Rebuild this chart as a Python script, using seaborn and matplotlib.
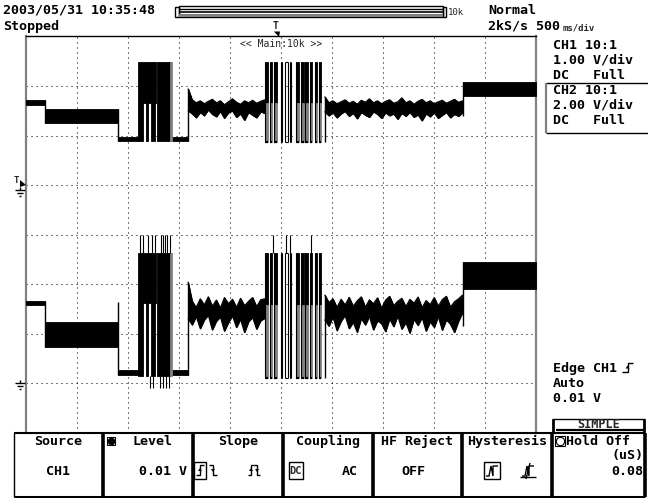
import matplotlib
matplotlib.use("Agg")
import matplotlib.pyplot as plt
import numpy as np
import pandas as pd
import seaborn as sns
from matplotlib.patches import Rectangle, Polygon

# time in s (500 ms/div, 10 div); CH1 volts (1 V/div), CH2 volts (2 V/div)
SEC_PER_DIV = 0.5
VDIV = {"CH1": 1.0, "CH2": 2.0}
OFFSET = {"CH1": 1.0, "CH2": -3.0}   # ground marker position, in div

# steady levels (start, end, low, high)
seg_t0 = [0.00, 0.19, 0.90, 1.43, 4.28]
seg_t1 = [0.19, 0.90, 1.10, 1.59, 5.00]
ch1_seg_lo = [1.62, 1.25, 0.89, 0.89, 1.79]
ch1_seg_hi = [1.72, 1.53, 0.97, 0.97, 2.08]
ch2_seg_lo = [3.15, 1.45, 0.32, 0.32, 3.79]
ch2_seg_hi = [3.31, 2.46, 0.52, 0.52, 4.88]

# transitions between pieces
edge_t = [0.19, 0.90, 1.59, 2.93, 4.28]
ch1_edge_lo = [1.25, 0.89, 0.89, 0.87, 1.40]
ch1_edge_hi = [1.72, 1.53, 1.94, 1.78, 2.08]
ch2_edge_lo = [1.45, 0.32, 0.32, 0.20, 2.30]
ch2_edge_hi = [3.31, 3.27, 4.07, 3.55, 4.88]

# noisy stretches, envelope
noise_a = (1.59, 2.34)
noise_b = (2.93, 4.28)
ch1_na_hi = [1.94, 1.72, 1.66, 1.70, 1.64, 1.69, 1.73, 1.66, 1.70, 1.62,
             1.68, 1.74, 1.67, 1.63, 1.70, 1.66, 1.71, 1.65, 1.69, 1.72]
ch1_na_lo = [1.50, 1.44, 1.36, 1.47, 1.40, 1.52, 1.43, 1.38, 1.49, 1.35,
             1.46, 1.50, 1.37, 1.44, 1.31, 1.47, 1.41, 1.36, 1.48, 1.45]
ch1_nb_hi = [1.78, 1.66, 1.70, 1.64, 1.68, 1.72, 1.65, 1.69, 1.63, 1.71,
             1.67, 1.74, 1.66, 1.70, 1.64, 1.69, 1.72, 1.65, 1.68, 1.76,
             1.66, 1.70, 1.63, 1.69, 1.73, 1.66, 1.70, 1.64, 1.68, 1.71,
             1.65, 1.69, 1.73, 1.67, 1.70]
ch1_nb_lo = [1.48, 1.40, 1.46, 1.36, 1.44, 1.49, 1.39, 1.45, 1.34, 1.47,
             1.41, 1.37, 1.48, 1.43, 1.35, 1.46, 1.40, 1.44, 1.33, 1.45,
             1.39, 1.47, 1.37, 1.42, 1.30, 1.44, 1.38, 1.46, 1.35, 1.41,
             1.47, 1.36, 1.43, 1.39, 1.46]
ch2_na_hi = [4.07, 3.30, 3.05, 3.40, 3.15, 3.48, 3.10, 3.35, 3.02, 3.45,
             3.20, 3.38, 3.05, 3.42, 3.12, 3.30, 3.45, 3.08, 3.36, 3.40]
ch2_na_lo = [2.60, 2.35, 2.70, 2.20, 2.55, 2.75, 2.15, 2.50, 2.68, 2.10,
             2.45, 2.72, 2.25, 2.58, 2.05, 2.48, 2.66, 2.18, 2.52, 2.62]
ch2_nb_hi = [3.55, 3.25, 3.40, 3.05, 3.38, 3.15, 3.46, 3.10, 3.32, 3.48,
             3.06, 3.36, 3.20, 3.44, 3.02, 3.35, 3.50, 3.12, 3.30, 3.42,
             3.08, 3.38, 3.22, 3.47, 3.04, 3.33, 3.16, 3.45, 3.10, 3.37,
             3.50, 3.06, 3.28, 3.40, 3.55]
ch2_nb_lo = [2.55, 2.30, 2.68, 2.12, 2.50, 2.74, 2.20, 2.46, 2.05, 2.62,
             2.35, 2.70, 2.15, 2.52, 2.40, 2.08, 2.60, 2.28, 2.72, 2.18,
             2.45, 2.02, 2.58, 2.33, 2.66, 2.10, 2.48, 2.25, 2.70, 2.14,
             2.56, 2.38, 2.05, 2.50, 2.85]

# first burst: dense block
b1_upper = [(1.098, 1.279), (1.289, 1.412)]
b1_lower = [(1.098, 1.147), (1.181, 1.196), (1.225, 1.265), (1.289, 1.412)]
b1_grey = (1.412, 1.431)
ch1_b1 = {"lo": 0.89, "mid": 1.65, "hi": 2.48}
ch2_b1 = {"lo": 0.28, "mid": 3.23, "hi": 5.27}
ch2_b1_spike_up = [1.118, 1.147, 1.196, 1.235, 1.265, 1.324, 1.343, 1.363, 1.382, 1.412]
ch2_b1_spike_dn = [1.216, 1.245, 1.314, 1.343, 1.373, 1.402]

# second burst: separate pulses
b2_t0 = [2.346, 2.389, 2.431, 2.497, 2.542, 2.585, 2.650, 2.699, 2.738, 2.787, 2.830, 2.873]
b2_t1 = [2.373, 2.415, 2.458, 2.510, 2.569, 2.601, 2.674, 2.722, 2.765, 2.807, 2.853, 2.895]
b2_open = [False, False, False, True, True, True, False, False, False, False, False, False]
ch1_b2 = {"lo": 0.87, "mid": 1.65, "hi": 2.48}
ch2_b2 = {"lo": 0.20, "mid": 3.15, "hi": 5.27}
ch2_b2_spike_up = [2.42, 2.55, 2.59, 2.79]

GREY = "#808080"


def d(v, ch):
    return np.asarray(v, dtype=float) / VDIV[ch] + OFFSET[ch]


def band(ax, t0, t1, lo, hi, ch, color="black"):
    ax.fill_between([t0, t1], d([lo, lo], ch), d([hi, hi], ch),
                    color=color, lw=0.6, zorder=3)


def draw_channel(ax, ch, seg_lo, seg_hi, e_lo, e_hi, na, nb, b1, b2,
                 spikes_up=(), spikes_dn=(), b2_spikes=()):
    for t0, t1, lo, hi in zip(seg_t0, seg_t1, seg_lo, seg_hi):
        band(ax, t0, t1, lo, hi, ch)

    for (t0, t1), (hi, lo) in zip([noise_a, noise_b], [na, nb]):
        t = np.linspace(t0, t1, len(hi))
        df = pd.DataFrame({"t": t, "hi": d(hi, ch), "lo": d(lo, ch)})
        ax.fill_between(df["t"], df["lo"], df["hi"], color="black", lw=0.6, zorder=3)
        sns.lineplot(data=df, x="t", y="hi", color="black", lw=0.9,
                     estimator=None, sort=False, ax=ax, zorder=3)
        sns.lineplot(data=df, x="t", y="lo", color="black", lw=0.9,
                     estimator=None, sort=False, ax=ax, zorder=3)

    ax.vlines(edge_t, d(e_lo, ch), d(e_hi, ch), color="black", lw=1.0, zorder=3)

    # burst 1
    for a, b in b1_upper:
        band(ax, a, b, b1["mid"], b1["hi"], ch)
    for a, b in b1_lower:
        band(ax, a, b, b1["lo"], b1["mid"], ch)
    band(ax, b1_grey[0], b1_grey[1], b1["lo"], b1["hi"], ch, GREY)
    if spikes_up:
        ax.vlines(spikes_up, d(b1["hi"], ch), d(6.0, ch), color="black", lw=0.8, zorder=3)
    if spikes_dn:
        ax.vlines(spikes_dn, d(b1["lo"], ch), d(-0.2, ch), color="black", lw=0.8, zorder=3)

    # burst 2
    for a, b, op in zip(b2_t0, b2_t1, b2_open):
        if op:
            ax.vlines([a, b], d(b2["lo"], ch), d(b2["hi"], ch), color="black", lw=0.8, zorder=3)
            ax.hlines([d(b2["hi"], ch), d(b2["lo"], ch)], a, b, color="black", lw=0.8, zorder=3)
        else:
            band(ax, a, b, b2["mid"], b2["hi"], ch)
            band(ax, a, b, b2["lo"], b2["mid"], ch, GREY)
            ax.vlines([a], d(b2["lo"], ch), d(b2["hi"], ch), color="black", lw=0.8, zorder=3)
            ax.hlines([d(b2["lo"], ch)], a, b, color="black", lw=1.6, zorder=3)
    if b2_spikes:
        ax.vlines(b2_spikes, d(b2["hi"], ch), d(6.0, ch), color="black", lw=0.8, zorder=3)


sns.set_theme(style="white")
plt.rcParams["font.family"] = ["DejaVu Sans Mono"]
plt.rcParams["lines.scale_dashes"] = False

fig = plt.figure(figsize=(6.48, 4.98), dpi=100)
ax = fig.add_axes([26 / 648, (498 - 432.5) / 498, 510 / 648, 396 / 498])
ax.set_xlim(0, 10 * SEC_PER_DIV)
ax.set_ylim(-4, 4)
ax.set_xticks([])
ax.set_yticks([])

dots = (0, (0.75, 2.85))
for k in range(1, 10):
    ax.axvline(k * SEC_PER_DIV, color="black", lw=0.75, ls=dots, zorder=1)
for k in range(-3, 4):
    ax.axhline(k, color="black", lw=0.75, ls=dots, zorder=1)

for s in ["left", "right"]:
    ax.spines[s].set_color(GREY)
    ax.spines[s].set_linewidth(1.6)
ax.spines["top"].set_color("black")
ax.spines["top"].set_linewidth(1.0)
ax.spines["bottom"].set_visible(False)

draw_channel(ax, "CH1", ch1_seg_lo, ch1_seg_hi, ch1_edge_lo, ch1_edge_hi,
             (ch1_na_hi, ch1_na_lo), (ch1_nb_hi, ch1_nb_lo), ch1_b1, ch1_b2)
draw_channel(ax, "CH2", ch2_seg_lo, ch2_seg_hi, ch2_edge_lo, ch2_edge_hi,
             (ch2_na_hi, ch2_na_lo), (ch2_nb_hi, ch2_nb_lo), ch2_b1, ch2_b2,
             ch2_b1_spike_up, ch2_b1_spike_dn, ch2_b2_spike_up)
ax.set_xlabel("")
ax.set_ylabel("")

# ---- screen furniture in pixel coordinates ----
ov = fig.add_axes([0, 0, 1, 1])
ov.set_xlim(0, 648)
ov.set_ylim(498, 0)
ov.axis("off")
ov.patch.set_alpha(0)

FS = 9.6
TXT = dict(fontsize=FS, fontweight="bold", va="center", color="black")


def line(xs, ys, lw=1.0, color="black"):
    ov.plot(xs, ys, color=color, lw=lw, solid_capstyle="butt", solid_joinstyle="miter")


def step_icon(x, y, w, h, rising=True):
    if rising:
        line([x, x + w / 2, x + w / 2, x + w], [y + h, y + h, y, y], lw=1.0)
        ov.add_patch(Polygon([[x + w / 2 - 2, y + h / 2 + 1], [x + w / 2 + 2, y + h / 2 + 1],
                              [x + w / 2, y + h / 2 - 2]], closed=True, color="black", lw=0))
    else:
        line([x, x + w / 2, x + w / 2, x + w], [y, y, y + h, y + h], lw=1.0)
        ov.add_patch(Polygon([[x + w / 2 - 2, y + h / 2 - 1], [x + w / 2 + 2, y + h / 2 - 1],
                              [x + w / 2, y + h / 2 + 2]], closed=True, color="black", lw=0))


def ground(x, y):
    line([x, x], [y - 3, y], lw=1.0)
    line([x - 5, x + 5], [y, y], lw=1.0)
    line([x - 3, x + 3], [y + 3, y + 3], lw=1.0)
    line([x - 1, x + 1], [y + 6, y + 6], lw=1.0)


# header
ov.text(3, 10, "2003/05/31 10:35:48", **TXT)
ov.text(3, 26, "Stopped", **TXT)
ov.text(488, 10, "Normal", **TXT)
ov.text(488, 26, "2kS/s 500", **TXT)
ov.text(563, 28, "ms/div", fontsize=6.5, fontweight="bold", va="center")

# record-length bar
ov.add_patch(Rectangle((175, 6.5), 3.5, 10, fill=False, lw=1.0, ec="black"))
ov.add_patch(Rectangle((442.5, 6.5), 3.5, 10, fill=False, lw=1.0, ec="black"))
ov.add_patch(Rectangle((178.5, 6), 264, 11, fill=False, lw=1.0, ec="black"))
line([178.5, 442.5], [9, 9], lw=1.0)
line([178.5, 442.5], [12, 12], lw=1.2)
ov.add_patch(Rectangle((178.5, 13.5), 264, 3.5, color=GREY, lw=0))
ov.text(448, 12, "10k", fontsize=6.5, va="center")

# trigger position marker
ov.text(276, 26, "T", fontsize=7, fontweight="bold", ha="center", va="center")
ov.add_patch(Polygon([[274, 31.5], [280, 31.5], [279, 37]], closed=True, color="black", lw=0))
ov.text(281, 44, "<< Main:10k >>", fontsize=7, ha="center", va="center")

# channel markers on the left edge
ov.text(16, 180, "T", fontsize=6.5, fontweight="bold", ha="center", va="center")
ov.add_patch(Polygon([[20, 180], [26, 185], [20, 187]], closed=True, color="black", lw=0))
ground(20, 190)
ground(20, 383)

# right side info
ov.text(553, 45, "CH1 10:1", **TXT)
ov.text(553, 60, "1.00 V/div", **TXT)
ov.text(553, 75, "DC   Full", **TXT)
line([546, 648], [82.5, 82.5], lw=1.0)
line([546, 546], [82.5, 133], lw=1.6, color=GREY)
line([546, 648], [133, 133], lw=1.0)
ov.text(553, 90, "CH2 10:1", **TXT)
ov.text(553, 105, "2.00 V/div", **TXT)
ov.text(553, 120, "DC   Full", **TXT)

ov.text(553, 368, "Edge CH1", **TXT)
step_icon(622, 363, 11, 9, rising=True)
ov.text(553, 383, "Auto", **TXT)
ov.text(553, 398, "0.01 V", **TXT)

# soft-key menu
dividers = [103, 193, 283, 373, 462, 552, 645]
line([14, 645], [432.5, 432.5], lw=1.5)
line([14, 645], [496.5, 496.5], lw=2.2)
line([14, 14], [432.5, 496.5], lw=1.0)
for xd in dividers:
    line([xd, xd], [432.5, 496.5], lw=2.6)

# SIMPLE tab
line([552, 645], [418.5, 418.5], lw=1.0)
line([553, 553], [418.5, 432.5], lw=2.0)
line([644, 644], [418.5, 432.5], lw=2.0)
line([556, 644], [430, 430], lw=1.6)
ov.text(599, 424, "SIMPLE", fontsize=8.5, fontweight="bold", ha="center", va="center")

ov.text(58, 441, "Source", ha="center", **TXT)
ov.text(58, 471, "CH1", ha="center", **TXT)

ov.add_patch(Rectangle((107, 437), 8, 8, fill=False, lw=0.8, ec="black"))
ov.plot([111], [441], "o", color="black", ms=4.5)
ov.text(152, 441, "Level", ha="center", **TXT)
ov.text(187, 471, "0.01 V", ha="right", **TXT)

ov.text(238, 441, "Slope", ha="center", **TXT)
ov.add_patch(Rectangle((194, 462), 12, 17, fill=False, lw=1.0, ec="black"))
step_icon(196, 465, 8, 10, rising=True)
step_icon(209, 465, 8, 10, rising=False)
step_icon(248, 465, 6, 10, rising=True)
step_icon(254, 465, 6, 10, rising=False)

ov.text(328, 441, "Coupling", ha="center", **TXT)
ov.add_patch(Rectangle((288.5, 462), 14, 17, fill=False, lw=1.0, ec="black"))
ov.text(295.5, 471, "DC", ha="center", fontsize=7.5, fontweight="bold", va="center")
ov.text(350, 471, "AC", ha="center", **TXT)

ov.text(417, 441, "HF Reject", ha="center", **TXT)
ov.text(413, 471, "OFF", ha="center", **TXT)

ov.text(507, 441, "Hysteresis", ha="center", **TXT)
ov.add_patch(Rectangle((484, 462), 16, 17, fill=False, lw=1.0, ec="black"))
line([486, 489, 491, 493, 493, 496, 498], [476, 476, 466, 476, 466, 466, 466], lw=1.0)
line([522, 525, 527, 529, 529, 532, 534], [476, 476, 466, 476, 466, 466, 466], lw=1.0)
line([520, 536], [477, 477], lw=1.0)
line([526, 530], [479, 463], lw=1.0)

ov.add_patch(Rectangle((555, 436), 10, 10, fill=False, lw=0.8, ec="black"))
ov.plot([560], [441], "o", mfc="none", mec="black", ms=6, mew=0.8)
ov.text(566, 441, "Hold Off", ha="left", **TXT)
ov.text(643, 455, "(uS)", ha="right", **TXT)
ov.text(643, 471, "0.08", ha="right", **TXT)

fig.savefig("out.png", dpi=100)
